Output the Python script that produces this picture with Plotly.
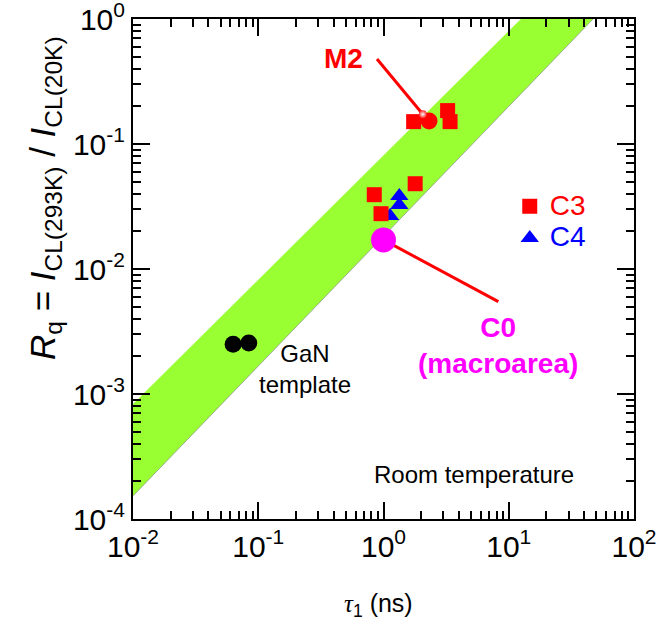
import numpy as np
import plotly.graph_objects as go

# ---- data ----
band_upper_tau = [0.01, 12.5]
band_upper_rq = [8.3e-4, 1.0]
band_lower_tau = [0.01, 47.1]
band_lower_rq = [1.53e-4, 1.0]

gan_tau = [0.063, 0.084]
gan_rq = [2.5e-3, 2.56e-3]

c3_tau = [1.74, 3.25, 3.40, 0.844, 1.79, 0.955]
c3_rq = [0.151, 0.185, 0.151, 0.0393, 0.0481, 0.0277]

c4_tau = [1.337, 1.337, 1.127]
c4_rq = [0.0384, 0.0325, 0.0265]

m2_tau = [2.31]
m2_rq = [0.153]
m2_glint_tau = [2.06]
m2_glint_rq = [0.173]

c0_tau = [1.0]
c0_rq = [0.0171]

m2_line_tau = [0.887, 2.06]
m2_line_rq = [0.479, 0.173]
c0_line_tau = [1.0, 8.26]
c0_line_rq = [0.0171, 0.00548]

x_ticks = [0.01, 0.1, 1, 10, 100]
x_ticktext = ["10<sup>-2</sup>", "10<sup>-1</sup>", "10<sup>0</sup>", "10<sup>1</sup>", "10<sup>2</sup>"]
y_ticks = [1e-4, 1e-3, 1e-2, 1e-1, 1]
y_ticktext = ["10<sup>-4</sup>", "10<sup>-3</sup>", "10<sup>-2</sup>", "10<sup>-1</sup>", "10<sup>0</sup>"]

FONT = "Liberation Sans, Arial, sans-serif"
LIME = "#99FF33"

fig = go.Figure()

# band
fig.add_trace(go.Scatter(x=band_lower_tau, y=band_lower_rq, mode="lines",
                         line=dict(color="#8a8a8a", width=0.7),
                         showlegend=False, hoverinfo="skip"))
fig.add_trace(go.Scatter(x=band_upper_tau, y=band_upper_rq, mode="lines",
                         line=dict(color=LIME, width=0), fill="tonexty",
                         fillcolor=LIME, showlegend=False, hoverinfo="skip"))

# pointer lines
fig.add_trace(go.Scatter(x=m2_line_tau, y=m2_line_rq, mode="lines",
                         line=dict(color="#FF0000", width=3), showlegend=False))
fig.add_trace(go.Scatter(x=c0_line_tau, y=c0_line_rq, mode="lines",
                         line=dict(color="#FF0000", width=3), showlegend=False))

# C4 triangles
fig.add_trace(go.Scatter(x=c4_tau, y=c4_rq, mode="markers",
                         name="<span style=\"font-size:28px;color:#0000FF\">C4</span>",
                         legendrank=2,
                         marker=dict(symbol="triangle-up", size=16, color="#0000FF",
                                     line=dict(width=0))))
# C3 squares
fig.add_trace(go.Scatter(x=c3_tau, y=c3_rq, mode="markers",
                         name="<span style=\"font-size:28px;color:#FF0000\">C3</span>",
                         legendrank=1,
                         marker=dict(symbol="square", size=15, color="#FF0000",
                                     line=dict(width=0))))
# M2
fig.add_trace(go.Scatter(x=m2_tau, y=m2_rq, mode="markers", showlegend=False,
                         marker=dict(symbol="circle", size=17, color="#FF0000",
                                     line=dict(width=0))))
fig.add_trace(go.Scatter(x=m2_glint_tau, y=m2_glint_rq, mode="markers", showlegend=False,
                         marker=dict(symbol="circle", size=8, color="#FF2020",
                                     gradient=dict(type="radial", color="#FFFFFF"),
                                     line=dict(width=0))))
# C0
fig.add_trace(go.Scatter(x=c0_tau, y=c0_rq, mode="markers", showlegend=False,
                         marker=dict(symbol="circle", size=25, color="#FF00FF",
                                     line=dict(width=0))))
# GaN template
fig.add_trace(go.Scatter(x=gan_tau, y=gan_rq, mode="markers", showlegend=False,
                         marker=dict(symbol="circle", size=17, color="#000000",
                                     line=dict(width=0))))

axis_common = dict(
    type="log", showgrid=False, zeroline=False,
    showline=True, linecolor="black", linewidth=2, mirror="allticks",
    ticks="inside", ticklen=17, tickwidth=2, tickcolor="black",
    tickmode="array", ticklabeloverflow="allow",
    tickfont=dict(family=FONT, size=30, color="black"),
    minor=dict(ticks="inside", ticklen=8, tickwidth=1.5, tickcolor="black",
               dtick="D1", showgrid=False),
)

fig.update_layout(
    width=659, height=632,
    margin=dict(l=133, r=25, t=19, b=113, autoexpand=False),
    paper_bgcolor="white", plot_bgcolor="white",
    font=dict(family=FONT, color="black"),
    xaxis=dict(range=[-2, 2], tickvals=x_ticks, ticktext=x_ticktext, **axis_common),
    yaxis=dict(range=[-4, 0], tickvals=y_ticks, ticktext=y_ticktext, **axis_common),
    showlegend=True,
    legend=dict(x=0.752, y=0.667, xanchor="left", yanchor="top",
                traceorder="normal",
                bgcolor="rgba(0,0,0,0)", borderwidth=0,
                font=dict(family=FONT, size=22, color="black"),
                itemwidth=30, tracegroupgap=0),
)

ann = [
    dict(x=np.log10(0.475), y=np.log10(0.479), xref="x", yref="y",
         text="<b>M2</b>", font=dict(size=28, color="#FF0000")),
    dict(x=0.914, y=-2.608, xref="x", yref="y",
         text="<b>C0<br>(macroarea)</b>", font=dict(size=28, color="#FF00FF")),
    dict(x=-0.6267, y=-2.80, xref="x", yref="y",
         text="GaN<br>template", font=dict(size=24, color="black")),
    dict(x=0.7226, y=-3.64, xref="x", yref="y",
         text="Room temperature", font=dict(size=24, color="black")),
    dict(x=(45 - 133) / 501, y=(519 - 198) / 500, xref="paper", yref="paper",
         textangle=-90,
         text="<i>R</i><sub>q</sub> = <i>I</i><sub>CL(293K)</sub> / <i>I</i><sub>CL(20K)</sub>",
         font=dict(size=35, color="black")),
    dict(x=(378 - 133) / 501, y=(519 - 605) / 500, xref="paper", yref="paper",
         text="<span style=\"font-family:'Liberation Serif'\"><i>τ</i></span><sub>1</sub> (ns)",
         font=dict(size=25, color="black")),
]
for a in ann:
    a.setdefault("showarrow", False)
    a.setdefault("xanchor", "center")
    a.setdefault("yanchor", "middle")
    a["font"]["family"] = FONT
fig.update_layout(annotations=ann)

# remove the default 8px page margin so the figure fills the window exactly
fig.write_html("out.html",
               config={"displayModeBar": False},
               post_script="document.body.style.margin='0';document.body.style.overflow='hidden';")
